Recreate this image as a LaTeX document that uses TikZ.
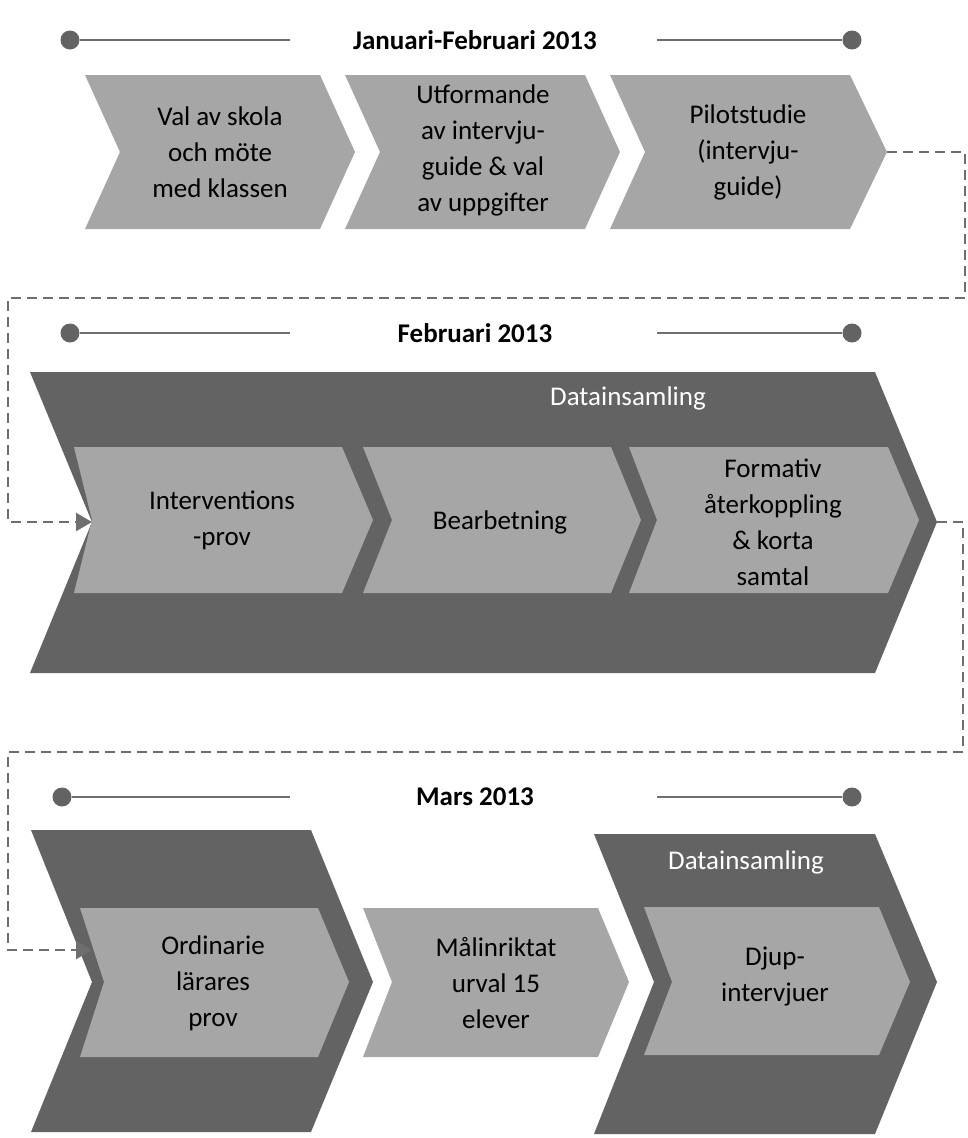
\documentclass[tikz,border=0pt]{standalone}
\usepackage{fontspec}
\setmainfont{Carlito}
\usetikzlibrary{arrows.meta}
\definecolor{lg}{HTML}{A6A6A6}
\definecolor{dg}{HTML}{636363}
\definecolor{ln}{HTML}{6E6E6E}
\tikzset{
 light/.style={fill=lg,draw=none},
 dark/.style={fill=dg,draw=none},
 lbl/.style={align=center,font=\fontsize{27}{36}\selectfont,inner sep=0pt},
 wlbl/.style={lbl,text=white},
 ttl/.style={font=\bfseries\fontsize{27}{32}\selectfont,inner sep=0pt},
 tl/.style={draw=ln,line width=2.2pt},
 dotc/.style={circle,fill=dg,minimum size=19pt,inner sep=0pt},
 dashline/.style={draw=ln,line width=2.5pt,dash pattern=on 10pt off 6pt},
 arr/.style={dashline,-{Triangle[length=16pt,width=18pt]}}
}
\begin{document}
\begin{tikzpicture}[x=1pt,y=-1pt]
\useasboundingbox (0,0) rectangle (967,1138);
% Row 1 timeline
\node[dotc] (d1a) at (70,40) {};
\node[dotc] (d1b) at (852,40) {};
\node[ttl] (t1) at (475,40) {Januari-Februari 2013};
\draw[tl] (d1a) -- (290,40) coordinate (t1l);
\draw[tl] (657,40) coordinate (t1r) -- (d1b);
% Row 1 chevrons
\fill[light] (85,75) -- (320,75) -- (355,152) -- (320,229) -- (85,229) -- (120,152) -- cycle;
\fill[light] (345,75) -- (585,75) -- (620,152) -- (585,229) -- (345,229) -- (380,152) -- cycle;
\fill[light] (610,75) -- (850,75) -- (887,152) -- (850,229) -- (610,229) -- (645,152) -- cycle;
\node[lbl] (a1) at (220,152) {Val av skola\\och möte\\med klassen};
\node[lbl] (a2) at (483,150) {Utformande\\av intervju-\\guide \& val\\av uppgifter};
\node[lbl] (a3) at (748,152) {Pilotstudie\\(intervju-\\guide)};
\coordinate (c1) at (887,152);
% Row 2 timeline
\node[dotc] (d2a) at (70,333) {};
\node[dotc] (d2b) at (852,333) {};
\node[ttl] (t2) at (475,333) {Februari 2013};
\draw[tl] (d2a) -- (290,333);
\draw[tl] (657,333) -- (d2b);
% Row 2 big chevron
\fill[dark] (30,372) -- (875,372) -- (937,522) -- (875,673) -- (30,673) -- (92,522) -- cycle;
\node[wlbl] (ds1) at (628,398) {Datainsamling};
\fill[light] (74,447) -- (342,447) -- (373,520) -- (342,593) -- (74,593) -- (92,520) -- cycle;
\fill[light] (363,447) -- (611,447) -- (641,520) -- (611,593) -- (363,593) -- (392,520) -- cycle;
\fill[light] (629,447) -- (888,447) -- (919,520) -- (888,593) -- (629,593) -- (657,520) -- cycle;
\node[lbl] (b1) at (222,520) {Interventions\\-prov};
\node[lbl] (b2) at (500,522) {Bearbetning};
\node[lbl] (b3) at (773,522) {Formativ\\återkoppling\\\& korta\\samtal};
\coordinate (c2in) at (92,522);
\coordinate (c2) at (937,522);
% Row 3 timeline
\node[dotc] (d3a) at (62,797) {};
\node[dotc] (d3b) at (852,797) {};
\node[ttl] (t3) at (475,797) {Mars 2013};
\draw[tl] (d3a) -- (290,797);
\draw[tl] (657,797) -- (d3b);
% Row 3 shapes
\fill[dark] (31,830) -- (311,830) -- (373,982) -- (311,1132) -- (31,1132) -- (92,982) -- cycle;
\fill[light] (80,908) -- (318,908) -- (349,982) -- (318,1057) -- (80,1057) -- (104,982) -- cycle;
\fill[light] (363,908) -- (598,908) -- (629,982) -- (598,1057) -- (363,1057) -- (392,982) -- cycle;
\fill[dark] (594,834) -- (875,834) -- (937,982) -- (875,1134) -- (594,1134) -- (654,982) -- cycle;
\fill[light] (644,907) -- (879,907) -- (910,982) -- (879,1055) -- (644,1055) -- (672,982) -- cycle;
\node[wlbl] (ds2) at (746,862) {Datainsamling};
\node[lbl] (e1) at (213,983) {Ordinarie\\lärares\\prov};
\node[lbl] (e2) at (496,983) {Målinriktat\\urval 15\\elever};
\node[lbl] (e3) at (775,977) {Djup-\\intervjuer};
\coordinate (c3in) at (92,950);
% Dashed connectors
\draw[arr] (c1) -- (965,152) -- (965,298) -- (8,298) -- (8,522) -- (c2in);
\draw[arr] (c2) -- (963,522) -- (963,752) -- (8,752) -- (8,950) -- (c3in);
\end{tikzpicture}
\end{document}
